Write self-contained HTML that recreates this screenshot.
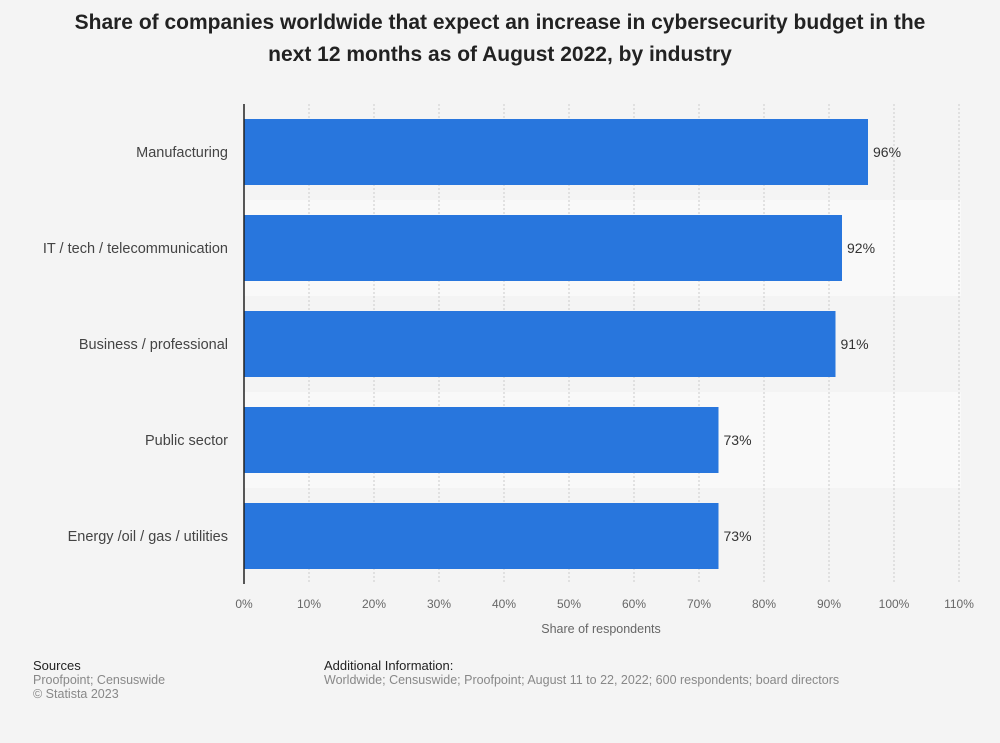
<!DOCTYPE html>
<html><head><meta charset="utf-8"><style>
body{margin:0;background:#f4f4f4;font-family:"Liberation Sans",sans-serif;}
#wrap{position:relative;width:1000px;height:743px;}
h1{position:absolute;top:7px;left:0;width:1000px;margin:0;text-align:center;font-size:21px;line-height:32px;font-weight:bold;color:#222;}
.ft{position:absolute;font-size:12.5px;color:#888;line-height:14px;}
.ft b{font-weight:normal;color:#222;font-size:13px;}
</style></head><body><div id="wrap">
<h1>Share of companies worldwide that expect an increase in cybersecurity budget in the<br>next 12 months as of August 2022, by industry</h1>
<svg id="c" width="1000" height="743" style="position:absolute;left:0;top:0"></svg>
<div class="ft" style="left:33px;top:659px"><b>Sources</b><br>Proofpoint; Censuswide<br>© Statista 2023</div>
<div class="ft" style="left:324px;top:659px"><b>Additional Information:</b><br>Worldwide; Censuswide; Proofpoint; August 11 to 22, 2022; 600 respondents; board directors</div>
</div>
<script>
const categories=["Manufacturing","IT / tech / telecommunication","Business / professional","Public sector","Energy /oil / gas / utilities"];
const values=[96,92,91,73,73];
const ticks=[0,10,20,30,40,50,60,70,80,90,100,110];
const NS="http://www.w3.org/2000/svg",svg=document.getElementById('c');
const x0=244,x1=959,top0=104,band=96,xMax=110;
const X=v=>x0+(x1-x0)*v/xMax;
function mk(t,a,txt){const e=document.createElementNS(NS,t);for(const k in a)e.setAttribute(k,a[k]);if(txt!=null)e.textContent=txt;svg.appendChild(e);return e;}
categories.forEach((c,i)=>{const r=mk('rect',{x:x0,y:top0+i*band,width:x1-x0+2,height:band,fill:i%2?'#f9f9f9':'#f4f4f4'});

});
ticks.forEach(t=>{if(t>0){const l=mk('line',{x1:X(t),x2:X(t),y1:top0,y2:top0+band*5,stroke:'#ccc','stroke-dasharray':'2,2'});

}
const tx=mk('text',{x:X(t),y:608,'text-anchor':'middle','font-size':12,fill:'#666'},t+'%');

});
categories.forEach((c,i)=>{const y=top0+i*band;
const b=mk('rect',{x:x0,y:y+15,width:X(values[i])-x0,height:66,fill:'#2876dd'});


const v=mk('text',{x:X(values[i])+5,y:y+53,'font-size':14,fill:'#333'},values[i]+'%');


const l=mk('text',{x:228,y:y+53,'text-anchor':'end','font-size':14.5,fill:'#444'},c);

});
const ax=mk('line',{x1:x0,x2:x0,y1:top0,y2:top0+band*5,stroke:'#222','stroke-width':1.5});


const at=mk('text',{x:601,y:633,'text-anchor':'middle','font-size':12.5,fill:'#666'},'Share of respondents');


</script></body></html>
